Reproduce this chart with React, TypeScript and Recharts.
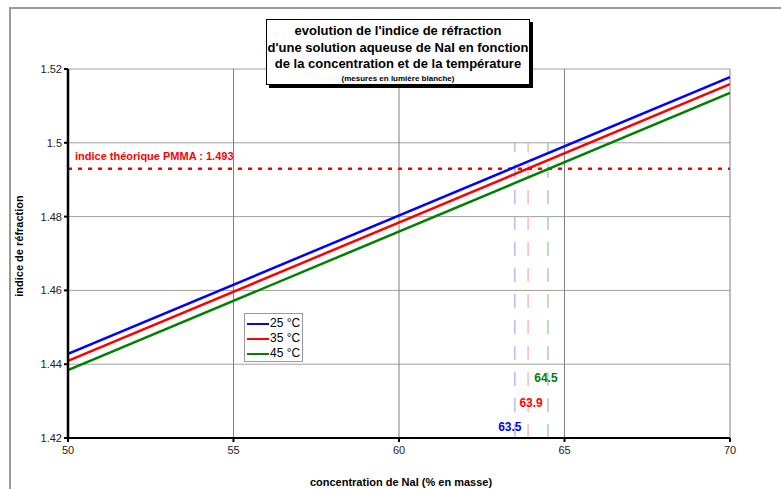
import React from 'react';
import {
  ComposedChart,
  Line,
  XAxis,
  YAxis,
  CartesianGrid,
  ReferenceLine,
  Legend,
} from 'recharts';

// ---- data ----
const concentration = [50, 70];
const n25 = [1.4428, 1.5178];
const n35 = [1.4409, 1.5159];
const n45 = [1.4384, 1.5135];
const seriesKeys = ['t25', 't35', 't45'];
const seriesNames = ['25 °C', '35 °C', '45 °C'];
const seriesColors = ['#0000ff', '#ff0000', '#008000'];
const xTicks = [50, 55, 60, 65, 70];
const yTicks = [1.42, 1.44, 1.46, 1.48, 1.5, 1.52];
const pmmaIndex = 1.493;
const pmmaLabel = 'indice théorique PMMA : 1.493';
const crossings = [63.5, 63.9, 64.5];
const crossingLabels = ['63.5', '63.9', '64.5'];
const titleLines = [
  "evolution de l'indice de réfraction",
  "d'une solution aqueuse de NaI en fonction",
  'de la concentration et de la température',
];
const subtitle = '(mesures en lumière blanche)';
const xLabel = 'concentration de NaI (% en masse)';
const yLabel = 'indice de réfraction';

const data = concentration.map((c, i) => ({
  c,
  t25: n25[i],
  t35: n35[i],
  t45: n45[i],
}));

const FONT = '"Liberation Sans", Arial, Helvetica, sans-serif';
const dashColors = ['#a8a8ff', '#ffa8a8', '#98c498'];
const labelBottomOffsets = [7, 31, 56];
const labelDx = [-5, 3, -2];

const fmtY = (v: number) => String(Number(v.toFixed(2)));

const LegendContent = () => (
  <div
    style={{
      border: '1px solid #999',
      background: '#fff',
      width: 59,
      height: 49,
      boxSizing: 'border-box',
      paddingTop: 2,
      fontFamily: FONT,
      fontSize: 12,
      color: '#000',
      whiteSpace: 'nowrap',
      overflow: 'visible',
    }}
  >
    {seriesNames.map((n, i) => (
      <div key={n} style={{ display: 'flex', alignItems: 'center', height: 15, marginLeft: 2, whiteSpace: 'nowrap' }}>
        <div style={{ width: 22, minWidth: 22, height: 2, background: seriesColors[i], marginRight: 1 }} />
        <span style={{ lineHeight: '15px', whiteSpace: 'nowrap' }}>{n}</span>
      </div>
    ))}
  </div>
);

export default function App() {
  return (
    <div style={{ position: 'absolute', left: 0, top: 0, width: 781, height: 489, background: '#fff', overflow: 'hidden' }}>
      <div
        style={{
          position: 'absolute',
          left: 9,
          top: 7,
          width: 900,
          height: 600,
          borderLeft: '2px solid #999',
          borderTop: '2px solid #999',
        }}
      />
      <div style={{ position: 'absolute', left: 0, top: 0 }}>
        <ComposedChart
          width={781}
          height={489}
          data={data}
          margin={{ top: 69, right: 51, bottom: 21, left: 8 }}
        >
          <CartesianGrid horizontal={true} vertical={false} stroke="#a0a0a0" strokeWidth={1} />
          <CartesianGrid horizontal={false} vertical={true} stroke="#808080" strokeWidth={1} />
          <XAxis
            dataKey="c"
            type="number"
            domain={[50, 70]}
            ticks={xTicks}
            allowDataOverflow
            height={30}
            axisLine={{ stroke: '#000', strokeWidth: 2 }}
            tickLine={{ stroke: '#000', strokeWidth: 2 }}
            tickSize={4}
            tickMargin={4}
            tick={{ fill: '#222', fontSize: 11, fontFamily: FONT }}
            label={{
              content: (p: any) => {
                const vb = p.viewBox || {};
                return (
                  <text
                    x={vb.x + vb.width / 2 + 2}
                    y={486}
                    textAnchor="middle"
                    fill="#000"
                    fontFamily={FONT}
                    fontSize={11}
                    fontWeight="bold"
                  >
                    {xLabel}
                  </text>
                );
              },
            }}
          />
          <YAxis
            type="number"
            domain={[1.42, 1.52]}
            ticks={yTicks}
            allowDataOverflow
            width={60}
            axisLine={{ stroke: '#000', strokeWidth: 2.5 }}
            tickLine={{ stroke: '#000', strokeWidth: 2 }}
            tickSize={4}
            tickMargin={2}
            tickFormatter={fmtY}
            tick={{ fill: '#222', fontSize: 11, fontFamily: FONT }}
            label={{
              content: () => (
                <text
                  x={0}
                  y={0}
                  transform="translate(23,246) rotate(-90)"
                  textAnchor="middle"
                  fill="#000"
                  fontFamily={FONT}
                  fontSize={11}
                  fontWeight="bold"
                >
                  {yLabel}
                </text>
              ),
            }}
          />
          {crossings.map((cx, i) => (
            <ReferenceLine
              key={'v' + i}
              segment={[
                { x: cx, y: 1.42 },
                { x: cx, y: 1.5 },
              ]}
              stroke={dashColors[i]}
              strokeWidth={1.2}
              strokeDasharray="14 12"
              ifOverflow="visible"
              label={{
                content: (p: any) => {
                  const vb = p.viewBox || {};
                  return (
                    <text
                      x={vb.x + labelDx[i]}
                      y={vb.y + vb.height - labelBottomOffsets[i]}
                      textAnchor="middle"
                      fill={seriesColors[i]}
                      fontFamily={FONT}
                      fontSize={12}
                      fontWeight="bold"
                    >
                      {crossingLabels[i]}
                    </text>
                  );
                },
              }}
            />
          ))}
          <ReferenceLine
            y={pmmaIndex}
            stroke="#ff0000"
            strokeWidth={2.5}
            strokeDasharray="4 6"
            label={{
              content: (p: any) => {
                const vb = p.viewBox || {};
                return (
                  <text
                    x={vb.x + 7}
                    y={vb.y - 9}
                    textAnchor="start"
                    fill="#ff0000"
                    fontFamily={FONT}
                    fontSize={11}
                    fontWeight="bold"
                  >
                    {pmmaLabel}
                  </text>
                );
              },
            }}
          />
          {seriesKeys.map((k, i) => (
            <Line
              key={k}
              dataKey={k}
              name={seriesNames[i]}
              type="linear"
              stroke={seriesColors[i]}
              strokeWidth={2.5}
              dot={false}
              activeDot={false}
              isAnimationActive={false}
            />
          ))}
          <Legend
            layout="vertical"
            align="center"
            verticalAlign="middle"
            content={<LegendContent />}
            wrapperStyle={{ position: 'absolute', left: 244, top: 313, width: 59, height: 49, whiteSpace: 'nowrap' }}
          />
        </ComposedChart>
      </div>
      <div
        style={{
          position: 'absolute',
          left: 266,
          top: 19,
          width: 264,
          height: 66,
          boxSizing: 'border-box',
          border: '1px solid #000',
          background: '#fff',
          boxShadow: '3px 3px 0 #000',
          textAlign: 'center',
          fontFamily: FONT,
          color: '#000',
          paddingTop: 3,
        }}
      >
        {titleLines.map((t) => (
          <div key={t} style={{ fontSize: 13, fontWeight: 'bold', lineHeight: '16.5px', whiteSpace: 'nowrap' }}>
            {t}
          </div>
        ))}
        <div style={{ fontSize: 8, fontWeight: 'bold', lineHeight: '11px', whiteSpace: 'nowrap' }}>{subtitle}</div>
      </div>
    </div>
  );
}
